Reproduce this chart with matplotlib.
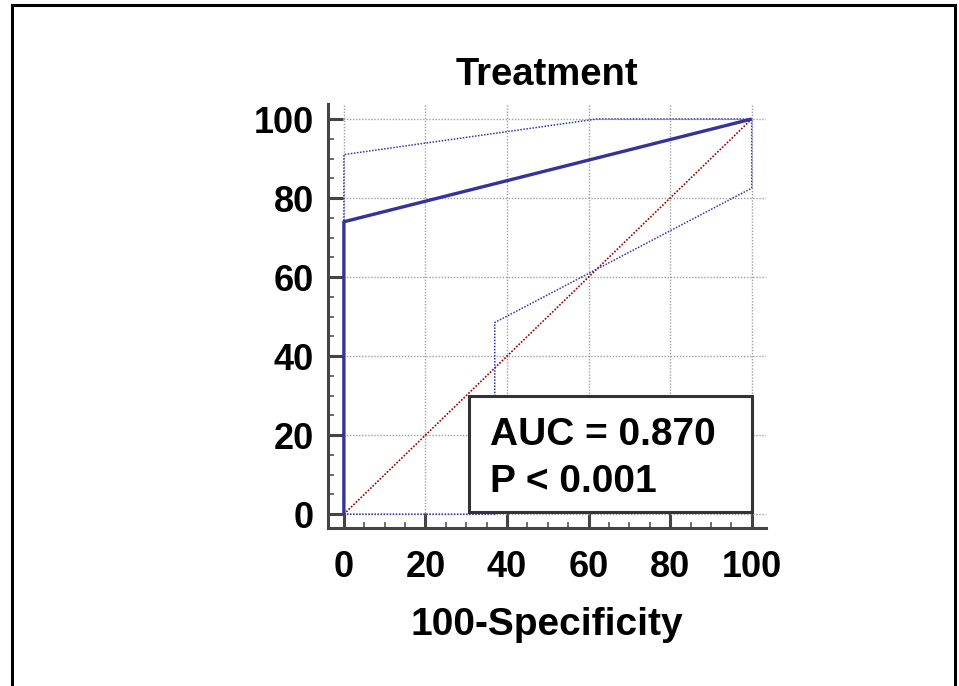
import matplotlib.pyplot as plt
from matplotlib.patches import Rectangle
from matplotlib.ticker import MultipleLocator

# ROC curve and its confidence bounds (100-Specificity, Sensitivity)
roc_x = [0, 0, 100]
roc_y = [0, 74, 100]

ci_upper_x = [0, 0, 62, 100]
ci_upper_y = [0, 91, 100, 100]

ci_lower_x = [0, 37, 37, 100, 100]
ci_lower_y = [0, 0, 48.5, 82.5, 100]

ref_x = [0, 100]
ref_y = [0, 100]

title = "Treatment"
xlabel = "100-Specificity"
auc_text = "AUC = 0.870"
p_text = "P < 0.001"

plt.rcParams['font.family'] = ['Liberation Sans', 'DejaVu Sans']
plt.rcParams['font.weight'] = 'bold'

fig = plt.figure(figsize=(9.59, 6.86), dpi=100)
ax = fig.add_axes([0.3420, 0.2303, 0.4567, 0.6181])

ax.plot(ref_x, ref_y, color="#990000", lw=1.2, ls=(0, (1, 1)), zorder=3)
ax.plot(ci_upper_x, ci_upper_y, color="#3333aa", lw=1.1, ls=(0, (1, 1)), zorder=3)
ax.plot(ci_lower_x, ci_lower_y, color="#3333aa", lw=1.1, ls=(0, (1, 1)), zorder=3)
ax.plot(roc_x, roc_y, color="#333399", lw=2.4, zorder=4, solid_capstyle='butt')

ax.set_xlim(-3.9, 103.5)
ax.set_ylim(-3.5, 103.8)

ax.xaxis.set_major_locator(MultipleLocator(20))
ax.yaxis.set_major_locator(MultipleLocator(20))
ax.xaxis.set_minor_locator(MultipleLocator(5))
ax.yaxis.set_minor_locator(MultipleLocator(5))

ax.grid(True, which='major', color="#a0a0a0", ls=(0, (1, 1.2)), lw=1.0, zorder=1)

for side in ['top', 'right']:
    ax.spines[side].set_visible(False)
for side in ['left', 'bottom']:
    ax.spines[side].set_color("#444444")
    ax.spines[side].set_linewidth(2.2)

ax.tick_params(which='major', direction='in', length=10.5, width=2.2,
               color="#444444", labelsize=26)
ax.tick_params(which='minor', direction='in', length=4.5, width=1.1,
               color="#444444")
ax.tick_params(axis='x', which='major', pad=16)
ax.tick_params(axis='y', which='major', pad=10)
for lab in ax.get_xticklabels() + ax.get_yticklabels():
    lab.set_fontweight('bold')

ax.set_title(title, fontsize=27.5, fontweight='bold', pad=13.5)
ax.set_xlabel(xlabel, fontsize=28, fontweight='bold', labelpad=16)

# annotation box
ax.add_patch(Rectangle((30.6, 0.5), 69.4, 29.4, facecolor='white',
                       edgecolor="#333333", lw=2.2, zorder=5))
ax.text(35.8, 17.5, auc_text, fontsize=28, fontweight='bold', va='baseline',
        zorder=6)
ax.text(35.8, 5.6, p_text, fontsize=28, fontweight='bold', va='baseline',
        zorder=6)

# outer frame
fig.add_artist(Rectangle((0.0125, -0.05), 0.9833, 1.0427, transform=fig.transFigure,
                         fill=False, edgecolor='black', lw=2.2, clip_on=False))

fig.savefig("out.png", dpi=100)
